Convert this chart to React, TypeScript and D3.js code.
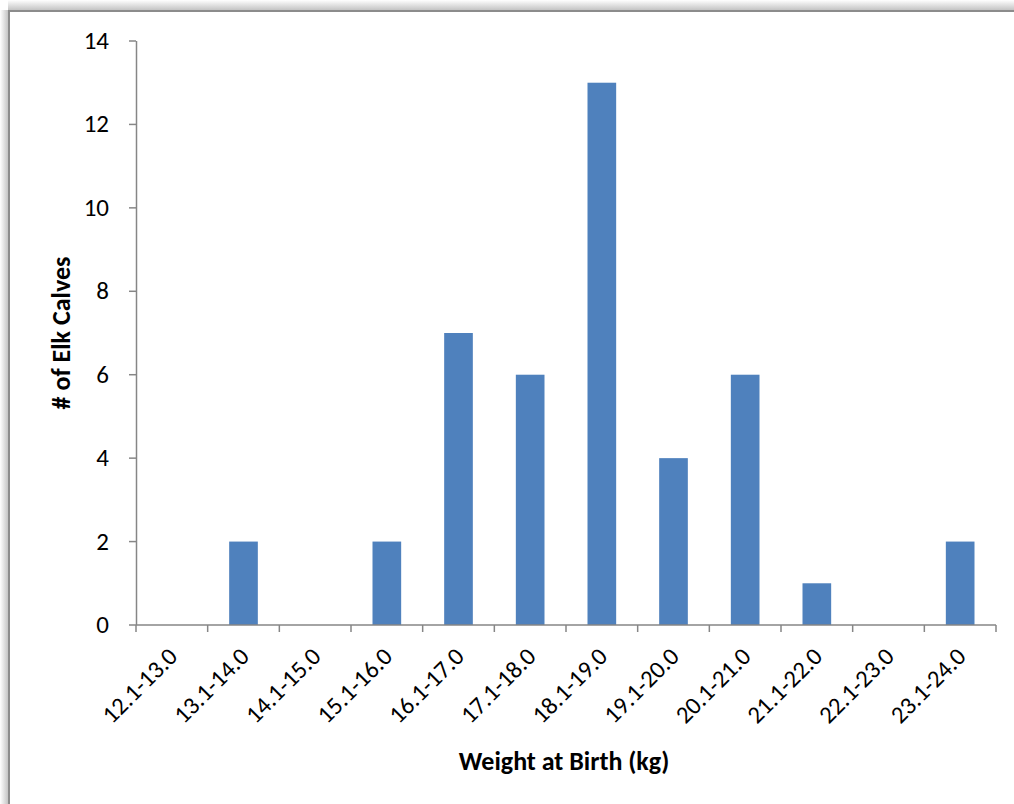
import React from "react";
import * as d3 from "d3";

const categories = [
  "12.1-13.0", "13.1-14.0", "14.1-15.0", "15.1-16.0", "16.1-17.0", "17.1-18.0",
  "18.1-19.0", "19.1-20.0", "20.1-21.0", "21.1-22.0", "22.1-23.0", "23.1-24.0",
];
const counts = [0, 2, 0, 2, 7, 6, 13, 4, 6, 1, 0, 2];
const yTicks = [0, 2, 4, 6, 8, 10, 12, 14];

const W = 1014;
const H = 804;
const FONT = "Carlito, Calibri, 'Open Sans', sans-serif";

export default function App() {
  const x0 = 136, x1 = 996, yTop = 41, yBot = 625;
  const x = d3.scaleBand<string>().domain(categories).range([x0, x1]).paddingInner(0.6).paddingOuter(0.3);
  const xOuter = d3.scaleLinear().domain([0, categories.length]).range([x0, x1]);
  const y = d3.scaleLinear().domain([0, 14]).range([yBot, yTop]);
  const axis = "#868686";

  return (
    <div style={{ position: "fixed", left: 0, top: 0 }}>
      <svg width={W} height={H} style={{ display: "block" }}>
        <defs>
          <linearGradient id="shTop" x1="0" y1="0" x2="0" y2="1">
            <stop offset="0" stopColor="#fff" />
            <stop offset="1" stopColor="#c4c4c4" />
          </linearGradient>
          <linearGradient id="shLeft" x1="0" y1="0" x2="1" y2="0">
            <stop offset="0" stopColor="#fff" />
            <stop offset="1" stopColor="#c4c4c4" />
          </linearGradient>
        </defs>
        <rect width={W} height={H} fill="#fff" />
        {/* frame shadow and border */}
        <rect x={8} y={0} width={W} height={10} fill="url(#shTop)" />
        <rect x={0} y={10} width={8} height={H} fill="url(#shLeft)" />
        <rect x={9} y={11} width={W + 20} height={H + 20} fill="#fff" stroke="#8c8c8c" strokeWidth={2} />

        {/* bars */}
        {categories.map((c, i) => (
          <rect key={c} x={x(c)} y={y(counts[i])} width={x.bandwidth()} height={y(0) - y(counts[i])} fill="#4F81BD" />
        ))}

        {/* y axis */}
        <line x1={x0 + 0.5} x2={x0 + 0.5} y1={yTop} y2={yBot} stroke={axis} strokeWidth={1.5} />
        {yTicks.map((t) => (
          <g key={t}>
            <line x1={x0 - 7} x2={x0} y1={y(t)} y2={y(t)} stroke={axis} strokeWidth={1.5} />
            <text x={x0 - 27} y={y(t)} dy="0.32em" textAnchor="end" fontFamily={FONT} fontSize={25} fill="#000">{t}</text>
          </g>
        ))}

        {/* x axis */}
        <line x1={x0} x2={x1} y1={yBot} y2={yBot} stroke={axis} strokeWidth={1.5} />
        {d3.range(categories.length + 1).map((i) => (
          <line key={i} x1={xOuter(i)} x2={xOuter(i)} y1={yBot} y2={yBot + 7} stroke={axis} strokeWidth={1.5} />
        ))}
        {categories.map((c) => {
          const cx = (x(c) as number) + x.bandwidth() / 2;
          return (
            <text key={c} transform={`translate(${cx + 7},${658}) rotate(-45)`} textAnchor="end" fontFamily={FONT} fontSize={24.5} fill="#000">{c}</text>
          );
        })}

        {/* axis titles */}
        <text x={(x0 + x1) / 2 - 2} y={770} textAnchor="middle" fontFamily={FONT} fontSize={26} fontWeight="bold" fill="#000">Weight at Birth (kg)</text>
        <text transform={`translate(70,333) rotate(-90)`} textAnchor="middle" fontFamily={FONT} fontSize={26} fontWeight="bold" fill="#000"># of Elk Calves</text>
      </svg>
    </div>
  );
}
